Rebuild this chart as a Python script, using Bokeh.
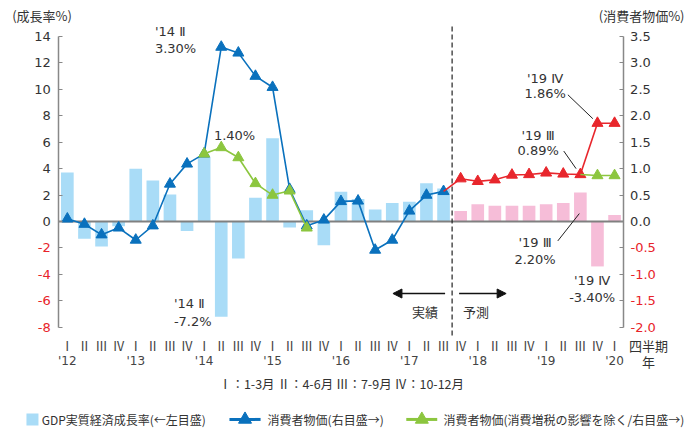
from bokeh.plotting import figure
from bokeh.models import (Range1d, LinearAxis, FixedTicker, PrintfTickFormatter,
                          Label, Arrow, NormalHead)
from bokeh.core.properties import value
from bokeh.embed import file_html
from bokeh.resources import INLINE

# ---------------- data ----------------
quarters = list(range(33))            # '12 I ... '20 I
quarter_labels = ["Ⅰ", "Ⅱ", "Ⅲ", "Ⅳ"] * 8 + ["Ⅰ"]
year_ticks = [0, 4, 8, 12, 16, 20, 24, 28, 32]
year_labels = ["'12", "'13", "'14", "'15", "'16", "'17", "'18", "'19", "'20"]

# GDP real growth (left axis, %)
gdp_actual = [3.7, -1.3, -1.9, -0.35, 4.0, 3.1, 2.05, -0.72, 4.9, -7.2, -2.8, 1.8,
              6.3, -0.45, 0.85, -1.8, 2.25, 1.7, 0.9, 1.4, 1.5, 2.9, 2.5]
gdp_forecast = [0.8, 1.3, 1.2, 1.2, 1.2, 1.3, 1.4, 2.2, -3.4, 0.5]

# CPI (right axis, %)
cpi_actual = [0.05, -0.05, -0.25, -0.12, -0.35, -0.08, 0.71, 1.09, 1.28, 3.30, 3.19, 2.75,
              2.54, 0.61, -0.08, 0.03, 0.38, 0.39, -0.54, -0.35, 0.20, 0.50, 0.57]
cpi_forecast = [0.81, 0.76, 0.79, 0.88, 0.89, 0.92, 0.90, 0.89, 1.86, 1.86]
# CPI excluding consumption tax effect (right axis, %)
cpi_ex_q = [8, 9, 10, 11, 12, 13, 14]
cpi_ex = [1.28, 1.40, 1.21, 0.72, 0.50, 0.58, -0.12]
cpi_ex_fc_q = [31, 32]
cpi_ex_forecast = [0.87, 0.87]

left_ticks = [-8, -6, -4, -2, 0, 2, 4, 6, 8, 10, 12, 14]
right_ticks = [-2.0, -1.5, -1.0, -0.5, 0.0, 0.5, 1.0, 1.5, 2.0, 2.5, 3.0, 3.5]

legend_texts = ["GDP実質経済成長率(←左目盛)", "消費者物価(右目盛→)",
                "消費者物価(消費増税の影響を除く/右目盛→)"]

# ---------------- styles ----------------
LIGHTBLUE = "#A9DCF7"
PINK = "#F6BDD8"
BLUE = "#0A71BD"
GREEN = "#8CC63F"
RED = "#E8262C"
NEGRED = "#E8232A"
AXIS = "#888888"
TXT = "#333333"
NUMFONT = "DejaVu Sans"
JPFONT = "Noto Sans CJK JP"

n_act = len(gdp_actual)
q_act = quarters[:n_act]
q_fc = quarters[n_act:]

X0, X1 = -0.5, 32.5          # plotting area in data units
Y0, Y1 = -8.63, 14.83

p = figure(width=697, height=429, title=None,
           x_range=Range1d(-3.909, 36.85), y_range=Range1d(-15.741, 16.725),
           output_backend="svg", toolbar_location=None,
           x_axis_location=None, y_axis_location=None,
           min_border=0, min_border_left=0, min_border_right=0,
           min_border_top=0, min_border_bottom=0)
p.extra_y_ranges = {"cpi": Range1d(-15.741 / 4, 16.725 / 4)}
p.outline_line_color = None
p.grid.grid_line_color = None
p.background_fill_color = "white"

# axes (drawn at fixed positions)
yl = LinearAxis(ticker=FixedTicker(ticks=left_ticks), bounds=(-8, 14), fixed_location=X0,
                major_label_overrides={t: "" for t in left_ticks if t < 0})
yr = LinearAxis(y_range_name="cpi", ticker=FixedTicker(ticks=right_ticks), bounds=(-2.0, 3.5),
                fixed_location=X1, formatter=PrintfTickFormatter(format="%.1f"),
                major_label_overrides={t: "" for t in right_ticks if t < 0})
for ax in (yl, yr):
    ax.axis_line_color = AXIS
    ax.axis_line_width = 1.5
    ax.major_tick_line_color = AXIS
    ax.major_tick_line_width = 1.2
    ax.major_tick_in = 4
    ax.major_tick_out = 0
    ax.minor_tick_line_color = None
    ax.major_label_text_font = NUMFONT
    ax.major_label_text_font_size = "13px"
    ax.major_label_text_color = TXT
yl.major_label_standoff = 8
yr.major_label_standoff = 7
p.add_layout(yl, "left")
p.add_layout(yr, "right")

xq = LinearAxis(ticker=FixedTicker(ticks=quarters), fixed_location=Y0,
                major_label_overrides={q: quarter_labels[q] for q in quarters})
xy = LinearAxis(ticker=FixedTicker(ticks=year_ticks), fixed_location=Y0,
                major_label_overrides={t: l for t, l in zip(year_ticks, year_labels)})
for ax in (xq, xy):
    ax.axis_line_color = None
    ax.major_tick_line_color = None
    ax.minor_tick_line_color = None
    ax.major_tick_in = 0
    ax.major_tick_out = 0
    ax.major_label_text_color = "#444444"
xq.major_label_text_font = JPFONT
xq.major_label_text_font_size = "12.5px"
xq.major_label_standoff = 0
xy.major_label_text_font = NUMFONT
xy.major_label_text_font_size = "12px"
xy.major_label_standoff = 18
p.add_layout(xq, "below")
p.add_layout(xy, "below")

# negative tick labels in red
for t in left_ticks:
    if t < 0:
        p.add_layout(Label(x=-0.968, y=t, text=str(t), text_align="right", text_baseline="middle",
                           text_color=NEGRED, text_font=NUMFONT, text_font_size="13px"))
for t in right_ticks:
    if t < 0:
        p.add_layout(Label(x=32.93, y=t, y_range_name="cpi", text="%.1f" % t, text_align="left",
                           text_baseline="middle", text_color=NEGRED, text_font=NUMFONT,
                           text_font_size="13px"))

# bars
p.vbar(x=q_act, top=gdp_actual, width=0.74, fill_color=LIGHTBLUE, line_color=None)
p.vbar(x=q_fc, top=gdp_forecast, width=0.74, fill_color=PINK, line_color=None)

# zero line
p.line(x=[X0, X1], y=[0, 0], line_color="#808080", line_width=2)

# dashed separator between actual and forecast
p.segment(x0=[22.5], y0=[Y0], x1=[22.5], y1=[Y1], line_color="#222222",
          line_width=1.2, line_dash="5 3")

# CPI lines
p.line(x=q_act, y=cpi_actual, y_range_name="cpi", line_color=BLUE, line_width=1.6)
p.scatter(x=q_act, y=cpi_actual, y_range_name="cpi", marker="triangle", size=11,
          fill_color=BLUE, line_color=BLUE)
p.line(x=[q_act[-1]] + q_fc, y=[cpi_actual[-1]] + cpi_forecast, y_range_name="cpi",
       line_color=RED, line_width=1.6)
p.scatter(x=q_fc, y=cpi_forecast, y_range_name="cpi", marker="triangle", size=11,
          fill_color=RED, line_color=RED)
p.line(x=cpi_ex_q, y=cpi_ex, y_range_name="cpi", line_color=GREEN, line_width=1.6)
p.scatter(x=cpi_ex_q, y=cpi_ex, y_range_name="cpi", marker="triangle", size=11,
          fill_color=GREEN, line_color=GREEN)
p.line(x=[q_fc[7]] + cpi_ex_fc_q, y=[cpi_forecast[7]] + cpi_ex_forecast, y_range_name="cpi",
       line_color=GREEN, line_width=1.6)
p.scatter(x=cpi_ex_fc_q, y=cpi_ex_forecast, y_range_name="cpi", marker="triangle", size=11,
          fill_color=GREEN, line_color=GREEN)

# leader lines
p.segment(x0=[29.27, 29.03, 28.68], y0=[9.59, 5.33, -1.47],
          x1=[30.73, 29.75, 29.94], y1=[7.78, 4.0, 0.6], line_color="#222222", line_width=1)

# annotations
def lab(x, y, text, align="left", font=NUMFONT, size="13px", color=TXT):
    p.add_layout(Label(x=x, y=y, text=text, text_align=align, text_baseline="middle",
                       text_font=font, text_font_size=size, text_color=color))

lab(5.12, 14.41, "'14 Ⅱ")
lab(5.12, 13.13, "3.30%")
lab(8.57, 6.52, "1.40%")
lab(6.23, -6.18, "'14 Ⅱ")
lab(6.23, -7.54, "-7.2%")
lab(27.94, 10.82, "'19 Ⅳ", "center")
lab(27.94, 9.69, "1.86%", "center")
lab(27.53, 6.52, "'19 Ⅲ", "center")
lab(27.53, 5.38, "0.89%", "center")
lab(27.35, -1.57, "'19 Ⅲ", "center")
lab(27.35, -2.86, "2.20%", "center")
lab(30.69, -4.44, "'19 Ⅳ", "center")
lab(30.69, -5.73, "-3.40%", "center")
lab(20.92, -6.79, "実績", "center", JPFONT)
lab(23.90, -6.79, "予測", "center", JPFONT)
lab(-3.225, 15.59, "(成長率%)", "left", JPFONT)
lab(36.09, 15.59, "(消費者物価%)", "right", JPFONT)
lab(33.99, -9.38, "四半期", "center", JPFONT, "13px")
lab(33.99, -10.56, "年", "center", JPFONT, "13px")
lab(16.03, -12.26, "Ⅰ：1-3月 Ⅱ：4-6月 Ⅲ：7-9月 Ⅳ：10-12月", "center", JPFONT, "12.5px")

p.add_layout(Arrow(end=NormalHead(size=9, fill_color="#111111", line_color="#111111"),
                   x_start=22.09, y_start=-5.45, x_end=19.04, y_end=-5.45,
                   line_color="#111111", line_width=1.5))
p.add_layout(Arrow(end=NormalHead(size=9, fill_color="#111111", line_color="#111111"),
                   x_start=22.91, y_start=-5.45, x_end=25.66, y_end=-5.45,
                   line_color="#111111", line_width=1.5))

# legend (drawn in the same coordinate space)
LY = -14.98
p.scatter(x=[-2.04], y=[LY], marker="square", size=12, fill_color=LIGHTBLUE, line_color=None)
p.line(x=[9.48, 11.30], y=[LY, LY], line_color=BLUE, line_width=3)
p.scatter(x=[10.39], y=[LY], marker="triangle", size=13, fill_color=BLUE, line_color=BLUE)
p.line(x=[19.82, 21.63], y=[LY, LY], line_color=GREEN, line_width=3)
p.scatter(x=[20.73], y=[LY], marker="triangle", size=13, fill_color=GREEN, line_color=GREEN)
p.text(x=[-1.50, 11.71, 22.00], y=[LY, LY, LY], text=legend_texts,
       text_font=value(JPFONT), text_font_size="12px", text_baseline="middle", text_color=TXT)

open("out.html", "w").write(file_html(p, INLINE))
